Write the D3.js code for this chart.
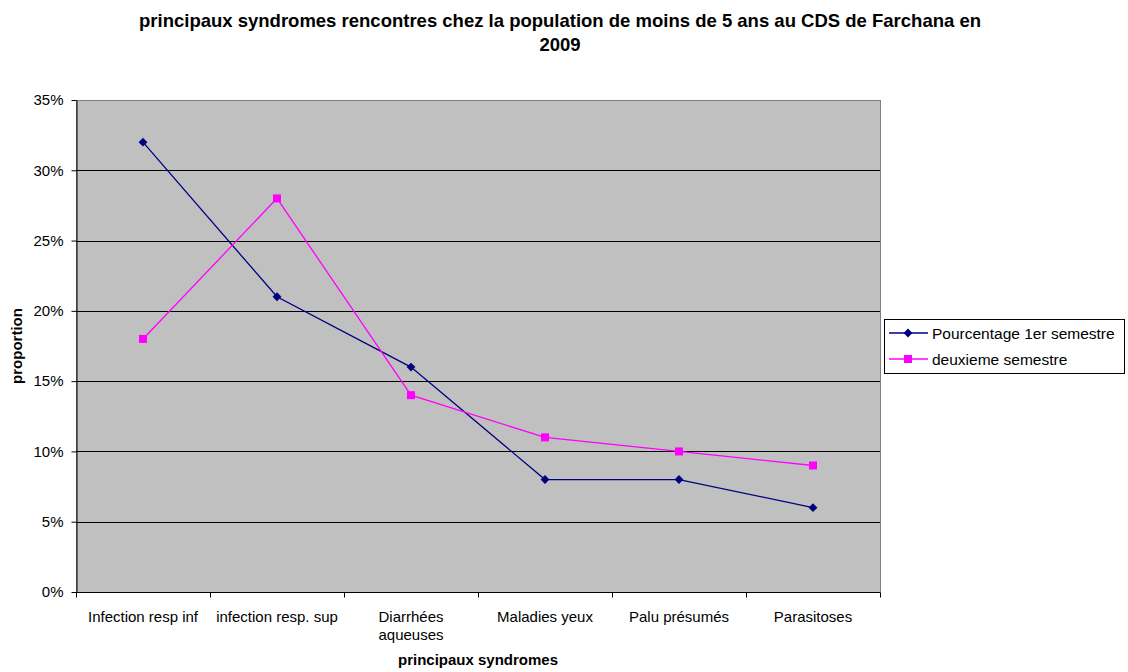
<!DOCTYPE html>
<html>
<head>
<meta charset="utf-8">
<script src="https://cdn.jsdelivr.net/npm/d3@7"></script>
<style>
  body { margin: 0; background: #fff; }
  svg text { font-family: "Liberation Sans", Arial, sans-serif; }
</style>
</head>
<body>
<div id="chart"></div>
<script>
const categories = ["Infection resp inf", "infection resp. sup", "Diarrhées aqueuses", "Maladies yeux", "Palu présumés", "Parasitoses"];
const semestre1 = [0.32, 0.21, 0.16, 0.08, 0.08, 0.06];
const semestre2 = [0.18, 0.28, 0.14, 0.11, 0.10, 0.09];
const yTicks = [0, 0.05, 0.10, 0.15, 0.20, 0.25, 0.30, 0.35];
const seriesNames = ["Pourcentage 1er semestre", "deuxieme semestre"];

const W = 1128, H = 672;
const plotL = 76, plotR = 880, plotT = 100, plotB = 592;

const svg = d3.select("#chart").append("svg")
  .attr("width", W).attr("height", H);

// title
svg.append("text").attr("x", 560).attr("y", 27).attr("text-anchor", "middle")
  .style("font-size", "18.5px").style("font-weight", "bold")
  .text("principaux syndromes rencontres chez la population de moins de 5 ans au CDS de Farchana en");
svg.append("text").attr("x", 560).attr("y", 51).attr("text-anchor", "middle")
  .style("font-size", "18.5px").style("font-weight", "bold")
  .text("2009");

const x = d3.scaleBand().domain(categories).range([plotL, plotR]);
const y = d3.scaleLinear().domain([0, 0.35]).range([plotB, plotT]);

// plot area
svg.append("rect").attr("x", plotL + 0.5).attr("y", plotT + 0.5)
  .attr("width", plotR - plotL).attr("height", plotB - plotT)
  .attr("fill", "#C0C0C0").attr("stroke", "#808080");

// gridlines
svg.append("g").selectAll("line").data(yTicks.slice(1, -1)).enter().append("line")
  .attr("x1", plotL).attr("x2", plotR)
  .attr("y1", d => Math.round(y(d)) + 0.5).attr("y2", d => Math.round(y(d)) + 0.5)
  .attr("stroke", "#000");

// y axis
const yAxis = svg.append("g").attr("transform", `translate(${plotL + 0.5},0)`)
  .call(d3.axisLeft(y).tickValues(yTicks).tickFormat(d3.format(".0%")).tickSize(5).tickSizeOuter(0));
yAxis.select(".domain").attr("stroke", "#000");
yAxis.selectAll("text").style("font-size", "15px").attr("fill", "#000").attr("x", -13);

// x axis
const xAxis = svg.append("g").attr("transform", `translate(0,${plotB + 0.5})`);
xAxis.append("line").attr("x1", plotL).attr("x2", plotR).attr("stroke", "#000");
const bounds = categories.map(c => x(c)).concat([plotR]);
xAxis.selectAll("line.tick").data(bounds).enter().append("line").attr("class", "tick")
  .attr("x1", d => Math.round(d) + 0.5).attr("x2", d => Math.round(d) + 0.5)
  .attr("y1", 0).attr("y2", 5).attr("stroke", "#000");
const xl = xAxis.selectAll("text").data(categories).enter().append("text")
  .attr("x", d => x(d) + x.bandwidth() / 2).attr("y", 29)
  .attr("text-anchor", "middle").style("font-size", "15px");
xl.each(function(d) {
  const t = d3.select(this);
  if (d === "Diarrhées aqueuses") {
    t.append("tspan").attr("x", x(d) + x.bandwidth() / 2).attr("dy", 0).text("Diarrhées");
    t.append("tspan").attr("x", x(d) + x.bandwidth() / 2).attr("dy", 18).text("aqueuses");
  } else {
    t.text(d);
  }
});

// axis titles
svg.append("text").attr("x", (plotL + plotR) / 2).attr("y", 665).attr("text-anchor", "middle")
  .style("font-size", "15px").style("font-weight", "bold").text("principaux syndromes");
svg.append("text").attr("transform", `translate(22,${(plotT + plotB) / 2}) rotate(-90)`)
  .attr("text-anchor", "middle")
  .style("font-size", "15px").style("font-weight", "bold").text("proportion");

// lines
const cx = (d, i) => x(categories[i]) + x.bandwidth() / 2;
const line = d3.line().x(cx).y(d => y(d));

svg.append("path").datum(semestre1).attr("d", line)
  .attr("fill", "none").attr("stroke", "#000080").attr("stroke-width", 1.3);
svg.append("path").datum(semestre2).attr("d", line)
  .attr("fill", "none").attr("stroke", "#FF00FF").attr("stroke-width", 1.3);

const diamond = d3.symbol().type(d3.symbolDiamond2).size(50);
svg.append("g").selectAll("path").data(semestre1).enter().append("path")
  .attr("d", diamond)
  .attr("transform", (d, i) => `translate(${cx(d, i)},${y(d)})`)
  .attr("fill", "#000080");
svg.append("g").selectAll("rect").data(semestre2).enter().append("rect")
  .attr("x", (d, i) => cx(d, i) - 4).attr("y", d => y(d) - 4)
  .attr("width", 8).attr("height", 8).attr("fill", "#FF00FF");

// legend
const lg = svg.append("g");
lg.append("rect").attr("x", 884.5).attr("y", 319.5).attr("width", 240).attr("height", 54)
  .attr("fill", "#fff").attr("stroke", "#000");
const colors = ["#000080", "#FF00FF"];
seriesNames.forEach((name, i) => {
  const ly = 333 + i * 26;
  lg.append("line").attr("x1", 889).attr("x2", 928).attr("y1", ly).attr("y2", ly)
    .attr("stroke", colors[i]).attr("stroke-width", 1.3);
  if (i === 0) {
    lg.append("path").attr("d", diamond).attr("transform", `translate(908,${ly})`).attr("fill", colors[i]);
  } else {
    lg.append("rect").attr("x", 904).attr("y", ly - 4).attr("width", 8).attr("height", 8).attr("fill", colors[i]);
  }
  lg.append("text").attr("x", 932).attr("y", ly + 5.5).style("font-size", "15.5px").text(name);
});
</script>
</body>
</html>
